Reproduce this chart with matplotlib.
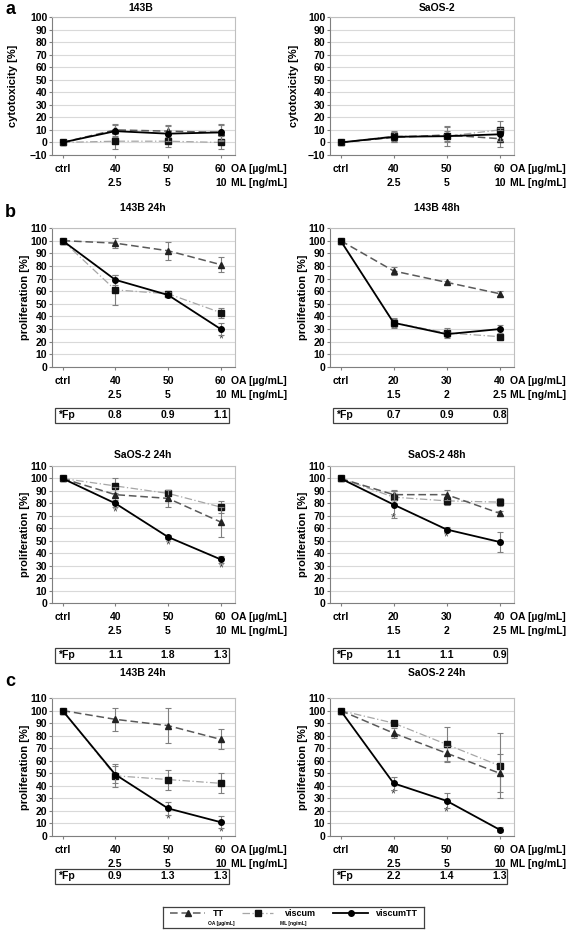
import numpy as np
import matplotlib
matplotlib.use("Agg")
import matplotlib.pyplot as plt
from matplotlib.patches import Rectangle

plt.rcParams["font.family"] = ["Liberation Sans", "DejaVu Sans"]
plt.rcParams["font.weight"] = "bold"
plt.rcParams["font.size"] = 7.5

### x categories
oa_a = ["ctrl", "40", "50", "60"]
ml_a = ["", "2.5", "5", "10"]
oa_48 = ["ctrl", "20", "30", "40"]
ml_48 = ["", "1.5", "2", "2.5"]

### a: cytotoxicity
a143_tt = [0, 10, 9, 8]
a143_tt_err = [0.5, 5, 5, 6]
a143_vi = [0, 1, 1, 0]
a143_vi_err = [0.5, 6, 5, 5]
a143_vt = [0, 9, 7, 8]
a143_vt_err = [0.5, 5, 6, 7]

asaos_tt = [0, 4, 6, 3]
asaos_tt_err = [0.5, 4, 6, 7]
asaos_vi = [0, 5, 5, 10]
asaos_vi_err = [0.5, 4, 8, 7]
asaos_vt = [0, 4.5, 5, 6.5]
asaos_vt_err = [0.5, 4, 4, 5]

### b: proliferation
b143_24_tt = [100, 98, 92, 81]
b143_24_tt_err = [0, 4, 7, 6]
b143_24_vi = [100, 61, 58, 43]
b143_24_vi_err = [0, 12, 2, 4]
b143_24_vt = [100, 69, 57, 30]
b143_24_vt_err = [0, 4, 2, 5]
b143_24_star = [(3, 22)]
b143_24_fp = ["0.8", "0.9", "1.1"]

b143_48_tt = [100, 76, 67, 58]
b143_48_tt_err = [0, 3, 1, 2]
b143_48_vi = [100, 35, 27, 24]
b143_48_vi_err = [0, 3, 4, 2]
b143_48_vt = [100, 35, 26, 30]
b143_48_vt_err = [0, 4, 2, 3]
b143_48_star = []
b143_48_fp = ["0.7", "0.9", "0.8"]

bsaos_24_tt = [100, 87, 84, 65]
bsaos_24_tt_err = [0, 6, 7, 12]
bsaos_24_vi = [100, 94, 88, 77]
bsaos_24_vi_err = [0, 6, 2, 5]
bsaos_24_vt = [100, 80, 53, 35]
bsaos_24_vt_err = [0, 3, 2, 3]
bsaos_24_star = [(1, 73), (2, 46), (3, 28)]
bsaos_24_fp = ["1.1", "1.8", "1.3"]

bsaos_48_tt = [100, 87, 87, 72]
bsaos_48_tt_err = [0, 4, 4, 2]
bsaos_48_vi = [100, 85, 82, 81]
bsaos_48_vi_err = [0, 5, 3, 3]
bsaos_48_vt = [100, 79, 59, 49]
bsaos_48_vt_err = [0, 11, 2, 8]
bsaos_48_star = [(1, 68), (2, 53)]
bsaos_48_fp = ["1.1", "1.1", "0.9"]

### c: proliferation
c143_tt = [100, 93, 88, 77]
c143_tt_err = [0, 9, 14, 8]
c143_vi = [100, 48, 45, 42]
c143_vi_err = [0, 9, 8, 8]
c143_vt = [100, 49, 22, 11]
c143_vt_err = [0, 7, 5, 5]
c143_star = [(2, 13), (3, 3)]
c143_fp = ["0.9", "1.3", "1.3"]

csaos_tt = [100, 82, 66, 50]
csaos_tt_err = [0, 4, 6, 15]
csaos_vi = [100, 90, 73, 56]
csaos_vi_err = [0, 1, 14, 26]
csaos_vt = [100, 42, 28, 5]
csaos_vt_err = [0, 5, 6, 2]
csaos_star = [(1, 33), (2, 19), (3, 2)]
csaos_fp = ["2.2", "1.4", "1.3"]

W, H = 567, 930
fig = plt.figure(figsize=(W / 100, H / 100), dpi=100)


def px_box(x0, y0, x1, y1):
    # pixel box (top-left origin) -> figure fraction rect
    return [x0 / W, 1 - y1 / H, (x1 - x0) / W, (y1 - y0) / H]


TT_STYLE = dict(color="#595959", ls=(0, (5, 2.5)), lw=1.1, marker="^", ms=4,
                mfc="#222222", mec="#222222")
VI_STYLE = dict(color="#a6a6a6", ls=(0, (6, 2, 1, 2)), lw=0.9, marker="s", ms=4,
                mfc="#111111", mec="#111111")
VT_STYLE = dict(color="black", ls="-", lw=1.3, marker="o", ms=4,
                mfc="black", mec="black")
ERR = dict(ecolor="#7f7f7f", elinewidth=0.8, capsize=2, capthick=0.8)


def panel(rect, title, title_px, tt, tte, vi, vie, vt, vte, oa, ml, kind, stars=(),
          fp=None, fp_y=None, ylab_x=-0.12):
    x0, y0, x1, y1 = rect
    ax = fig.add_axes(px_box(x0, y0, x1, y1))
    x = np.arange(4)
    ax.errorbar(x, vi, yerr=vie, **VI_STYLE, **ERR, zorder=3)
    ax.errorbar(x, tt, yerr=tte, **TT_STYLE, **ERR, zorder=4)
    ax.errorbar(x, vt, yerr=vte, **VT_STYLE, **ERR, zorder=5)
    for i, yv in stars:
        ax.text(i, yv, "*", ha="center", va="center", color="#404040", fontsize=9,
                fontweight="normal")

    ax.set_xlim(-0.2, 3.27)
    if kind == "cyto":
        ax.set_ylim(-10, 100)
        ax.set_yticks(np.arange(-10, 101, 10))
        ax.set_ylabel("cytotoxicity [%]", fontweight="bold", fontsize=8)
    else:
        ax.set_ylim(0, 110)
        ax.set_yticks(np.arange(0, 111, 10))
        ax.set_ylabel("proliferation [%]", fontweight="bold", fontsize=8)
    ax.yaxis.set_label_coords(ylab_x, 0.5)
    ax.yaxis.grid(True, color="#d9d9d9", lw=0.8)
    ax.set_axisbelow(True)
    for s in ["top", "right"]:
        ax.spines[s].set_color("#bfbfbf")
        ax.spines[s].set_linewidth(0.8)
    ax.spines["left"].set_color("#7f7f7f")
    ax.spines["bottom"].set_color("#7f7f7f")
    ax.tick_params(axis="y", length=2.5, width=0.8, color="#7f7f7f", pad=1,
                   labelsize=7.5)
    ax.set_xticks(x)
    ax.set_xticklabels([])
    ax.tick_params(axis="x", length=2, width=0.8, color="#7f7f7f")

    # category rows
    row1, row2 = 14, 28
    for i in range(4):
        ax.annotate(oa[i], (i, 0), xycoords=("data", "axes fraction"),
                    xytext=(0, -row1), textcoords="offset pixels",
                    ha="center", va="center")
        ax.annotate(ml[i], (i, 0), xycoords=("data", "axes fraction"),
                    xytext=(0, -row2), textcoords="offset pixels",
                    ha="center", va="center")
    ax.annotate("OA [µg/mL]", (3, 0), xycoords=("data", "axes fraction"),
                xytext=(10, -row1), textcoords="offset pixels",
                ha="left", va="center")
    ax.annotate("ML [ng/mL]", (3, 0), xycoords=("data", "axes fraction"),
                xytext=(10, -row2), textcoords="offset pixels",
                ha="left", va="center")

    fig.text(title_px[0] / W, 1 - title_px[1] / H, title, ha="center", va="center")

    if fp is not None:
        bx0, bx1 = x0 + 3, x0 + 177
        fig.add_artist(Rectangle((bx0 / W, 1 - (fp_y + 7.5) / H), (bx1 - bx0) / W,
                                 15 / H, transform=fig.transFigure, fill=False,
                                 ec="#404040", lw=0.9))
        fig.text((bx0 + 3) / W, 1 - fp_y / H, "*Fp", ha="left", va="center")
        for i, v in enumerate(fp):
            ax.annotate(v, (i + 1, 0), xycoords=("data", "axes fraction"),
                        xytext=(0, -(fp_y - y1)), textcoords="offset pixels",
                        ha="center", va="center")
    return ax


L = (52, 235)
R = (330, 514)

# row a
panel((L[0], 17, L[1], 155), "143B", (141, 8), a143_tt, a143_tt_err, a143_vi,
      a143_vi_err, a143_vt, a143_vt_err, oa_a, ml_a, "cyto", ylab_x=-0.185)
panel((R[0], 17, R[1], 155), "SaOS-2", (437, 8), asaos_tt, asaos_tt_err, asaos_vi,
      asaos_vi_err, asaos_vt, asaos_vt_err, oa_a, ml_a, "cyto", ylab_x=-0.17)

# row b1
panel((L[0], 228, L[1], 367), "143B 24h", (143, 208), b143_24_tt, b143_24_tt_err,
      b143_24_vi, b143_24_vi_err, b143_24_vt, b143_24_vt_err, oa_a, ml_a, "prolif",
      b143_24_star, b143_24_fp, 415)
panel((R[0], 228, R[1], 367), "143B 48h", (437, 208), b143_48_tt, b143_48_tt_err,
      b143_48_vi, b143_48_vi_err, b143_48_vt, b143_48_vt_err, oa_48, ml_48, "prolif",
      b143_48_star, b143_48_fp, 415)

# row b2
panel((L[0], 466, L[1], 603), "SaOS-2 24h", (143, 455), bsaos_24_tt, bsaos_24_tt_err,
      bsaos_24_vi, bsaos_24_vi_err, bsaos_24_vt, bsaos_24_vt_err, oa_a, ml_a, "prolif",
      bsaos_24_star, bsaos_24_fp, 655)
panel((R[0], 466, R[1], 603), "SaOS-2 48h", (437, 455), bsaos_48_tt, bsaos_48_tt_err,
      bsaos_48_vi, bsaos_48_vi_err, bsaos_48_vt, bsaos_48_vt_err, oa_48, ml_48,
      "prolif", bsaos_48_star, bsaos_48_fp, 655)

# row c
panel((L[0], 698, L[1], 836), "143B 24h", (143, 673), c143_tt, c143_tt_err, c143_vi,
      c143_vi_err, c143_vt, c143_vt_err, oa_a, ml_a, "prolif", c143_star, c143_fp, 876)
panel((R[0], 698, R[1], 836), "SaOS-2 24h", (437, 673), csaos_tt, csaos_tt_err,
      csaos_vi, csaos_vi_err, csaos_vt, csaos_vt_err, oa_a, ml_a, "prolif",
      csaos_star, csaos_fp, 876)

# panel letters
for letter, (lx, ly) in [("a", (5, 9)), ("b", (5, 212)), ("c", (5, 682))]:
    fig.text(lx / W, 1 - ly / H, letter, ha="left", va="center", fontsize=13,
             fontweight="bold")

# legend
lg = fig.add_axes(px_box(163, 907, 424, 928))
lg.set_xlim(163, 424)
lg.set_ylim(928, 907)
lg.set_xticks([])
lg.set_yticks([])
for s in lg.spines.values():
    s.set_color("#404040")
    s.set_linewidth(0.9)
ly = 913
for (xa, xb, xt, sub, style, name) in [
    (170, 205, 213, "OA [µg/mL]", TT_STYLE, "TT"),
    (242, 273, 285, "ML [ng/mL]", VI_STYLE, "viscum"),
    (333, 368, 376, None, VT_STYLE, "viscumTT"),
]:
    st = dict(style)
    lg.plot([xa, xb], [ly, ly], **{k: v for k, v in st.items() if k not in
                                   ("marker", "ms", "mfc", "mec")})
    lg.plot([(xa + xb) / 2], [ly], ls="none", marker=st["marker"], ms=st["ms"],
            mfc=st["mfc"], mec=st["mec"])
    lg.text(xt, ly, name, ha="left", va="center", fontsize=6.5)
    if sub:
        lg.text(xt + 8, 923, sub, ha="center", va="center", fontsize=3.5)

fig.savefig("out.png", dpi=100)
